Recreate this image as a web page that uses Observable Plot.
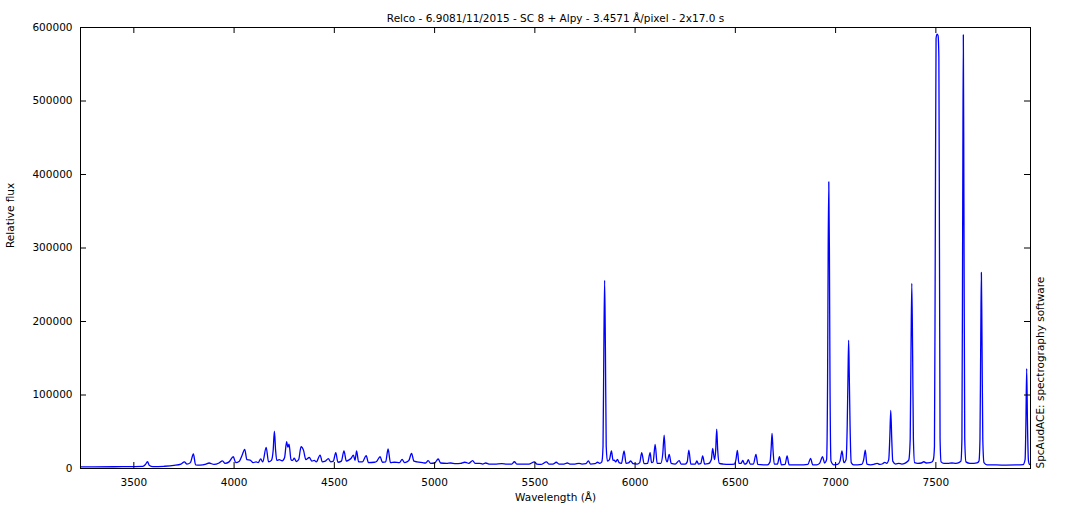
<!DOCTYPE html>
<html><head><meta charset="utf-8">
<script src="https://cdn.jsdelivr.net/npm/d3@7"></script>
<script src="https://cdn.jsdelivr.net/npm/@observablehq/plot@0.6"></script>
<style>html,body{margin:0;padding:0;background:#fff} svg{display:block}</style>
</head><body><div id="chart"></div>
<script>
// Spectrum vertices: wavelength (Å) and relative flux
const wavelengths = [
3234,3300,3400,3500,3545,3558,3568,3578,3595,3650,3700,3735,3752,3765,3782,3797,3808,3830,3860,3875,
3900,3925,3942,3955,3975,3996,4008,4025,4040,4053,4064,4080,4095,4110,4120,4133,4143,4160,4172,4186,
4195,4201,4207,4213,4225,4240,4252,4262,4268,4274,4284,4292,4300,4310,4322,4334,4346,4358,4375,4388,
4400,4410,4429,4440,4455,4470,4482,4495,4507,4518,4535,4548,4560,4575,4584,4595,4603,4611,4621,4640,
4659,4670,4700,4712,4728,4740,4756,4768,4780,4800,4825,4838,4850,4862,4872,4885,4897,4912,4940,4955,
4968,4980,5000,5018,5030,5060,5080,5105,5130,5150,5160,5170,5190,5202,5225,5240,5255,5275,5300,5335,
5360,5385,5398,5410,5440,5470,5498,5510,5530,5558,5570,5590,5607,5620,5645,5662,5675,5700,5720,5735,
5755,5767,5778,5800,5813,5823,5834,5840,5844,5848,5852,5856,5862,5872,5882,5890,5896,5903,5912,5920,
5932,5945,5955,5967,5978,5990,6010,6023,6033,6045,6062,6075,6082,6090,6100,6110,6128,6138,6145,6152,
6160,6170,6180,6200,6220,6230,6250,6260,6268,6278,6300,6308,6316,6328,6337,6347,6365,6380,6387,6396,
6402,6407,6412,6420,6440,6470,6495,6503,6510,6518,6528,6537,6546,6556,6565,6574,6590,6603,6612,6640,
6660,6673,6678,6683,6688,6694,6710,6720,6730,6748,6758,6768,6800,6840,6862,6875,6886,6905,6920,6935,
6945,6955,6960,6963,6966,6969,6972,6977,6990,7010,7022,7032,7041,7052,7058,7062,7065,7068,7072,7078,
7090,7110,7130,7140,7148,7156,7175,7190,7207,7220,7235,7245,7255,7265,7270,7275,7280,7285,7300,7315,
7330,7345,7357,7365,7372,7376,7380,7384,7388,7394,7410,7428,7440,7452,7470,7482,7488,7493,7497,7501,
7506,7511,7515,7518,7521,7526,7540,7560,7580,7600,7615,7625,7630,7634,7637,7640,7644,7650,7670,7690,
7705,7715,7720,7724,7727,7730,7734,7740,7755,7800,7850,7900,7935,7945,7949,7953,7957,7962,7967,7972
];
const fluxes = [
2200,2300,2400,2600,2900,5500,9200,4000,2500,3000,4200,6000,9000,6000,8000,19700,5000,4700,6000,7500,
5500,7500,10500,7000,9000,16000,8000,9500,18000,26000,12000,11500,8000,9000,8000,13000,9000,28800,9000,11000,
25000,50900,25000,11000,12000,10500,15000,36500,29000,33000,12000,11000,14000,9500,12000,29600,25000,12000,15000,10000,
11000,9000,18300,9000,10000,13500,9000,10000,21500,8500,10000,23800,10000,12000,14000,18300,11000,23800,9000,9000,
17400,8000,8500,10000,16000,8500,9000,26500,8000,8500,8000,12500,8000,9000,11000,20600,10000,9000,8000,7500,
10600,7000,7500,12900,7500,7000,7500,6500,7000,8500,8000,7000,10600,7000,7000,6000,7500,6000,6000,6500,
6000,6000,9200,6000,6000,6000,9000,6000,5500,9000,6000,6000,8500,6000,6000,7500,6000,6000,7000,6000,
6500,10500,6000,6500,8500,7000,9000,30000,160000,256000,160000,30000,10000,12000,24000,11000,11500,9000,12500,8000,
7000,24000,7000,7500,10200,6500,6000,8000,21500,6500,7000,21500,8000,9000,32800,7000,7000,20000,45500,15000,
9000,19300,7000,6000,10600,6000,6000,9000,25100,6000,6000,10200,6000,7000,17000,6000,6500,12000,27400,12000,
25000,53600,25000,7000,6000,5500,6000,12000,24700,7000,7000,11000,6000,7000,12000,6000,6000,19300,5500,5000,
5000,9000,25000,47800,25000,6000,6000,16000,5000,5500,17000,5000,5000,5000,5500,13800,5000,5000,7000,16000,
7500,12000,120000,300000,390000,300000,120000,10000,5000,5500,10000,24100,8000,12000,60000,130000,174400,130000,60000,8000,
5000,5000,5500,12000,25100,6000,5000,5500,7000,5500,6500,8400,7000,12000,40000,79000,40000,10000,6000,7000,
6000,7000,9200,11500,40000,160000,252000,160000,40000,8000,7000,7500,9200,7500,8000,9200,12600,30000,300000,585000,
591000,589000,560000,300000,40000,9000,7000,7000,7500,7000,8000,10000,40000,360000,590000,360000,40000,9000,7000,7000,
7500,10000,40000,180000,266700,180000,40000,8000,5000,4800,4700,4800,5200,12000,60000,136000,60000,10000,5500,5200
];
const xTicks = [3500, 4000, 4500, 5000, 5500, 6000, 6500, 7000, 7500];
const yTicks = [0, 100000, 200000, 300000, 400000, 500000, 600000];
const titleText = "Relco - 6.9081/11/2015 - SC 8 + Alpy - 3.4571 Å/pixel - 2x17.0 s";
const xLabel = "Wavelength (Å)";
const yLabel = "Relative flux";
const sideNote = "SpcAudACE: spectrography software";

const spectrum = wavelengths.map((w, i) => ({w, f: fluxes[i]}));

const W = 1070, H = 510, mL = 80, mR = 40, mT = 27, mB = 42;
const innerW = W - mL - mR, innerH = H - mT - mB;
const fs = 10.5;

const chart = Plot.plot({
  width: W, height: H,
  marginLeft: mL, marginRight: mR, marginTop: mT, marginBottom: mB,
  style: {fontFamily: "'DejaVu Sans', sans-serif", fontSize: fs + "px", background: "#fff", color: "#000", overflow: "visible"},
  x: {domain: [3234, 7972]},
  y: {domain: [0, 600000]},
  marks: [
    Plot.line(spectrum, {x: "w", y: "f", stroke: "#0000ff", strokeWidth: 1.3, curve: "monotone-x"}),
    Plot.frame({stroke: "#000", strokeWidth: 1}),
    Plot.axisX({ticks: xTicks, tickSize: 0, tickPadding: 10, tickFormat: d => String(d), label: null, fontSize: fs}),
    Plot.axisY({ticks: yTicks, tickSize: 0, tickPadding: 8, tickFormat: d => String(d), label: null, fontSize: fs}),
    Plot.tickX(xTicks, {x: d => d, insetTop: innerH - 6, stroke: "#000"}),
    Plot.tickX(xTicks, {x: d => d, insetBottom: innerH - 6, stroke: "#000"}),
    Plot.tickY(yTicks, {y: d => d, insetRight: innerW - 6, stroke: "#000"}),
    Plot.tickY(yTicks, {y: d => d, insetLeft: innerW - 6, stroke: "#000"}),
    Plot.text([titleText], {frameAnchor: "top", dy: -13, fontSize: fs, fill: "#000"}),
    Plot.text([xLabel], {frameAnchor: "bottom", dy: 32, fontSize: fs, fill: "#000"}),
    Plot.text([yLabel], {frameAnchor: "left", dx: -70, rotate: -90, fontSize: fs, fill: "#000"}),
    Plot.text([sideNote], {frameAnchor: "bottom-right", dx: 13, dy: 0, rotate: -90, textAnchor: "start", fontSize: fs, fill: "#000"})
  ]
});
document.getElementById("chart").appendChild(chart);
</script>
</body></html>
